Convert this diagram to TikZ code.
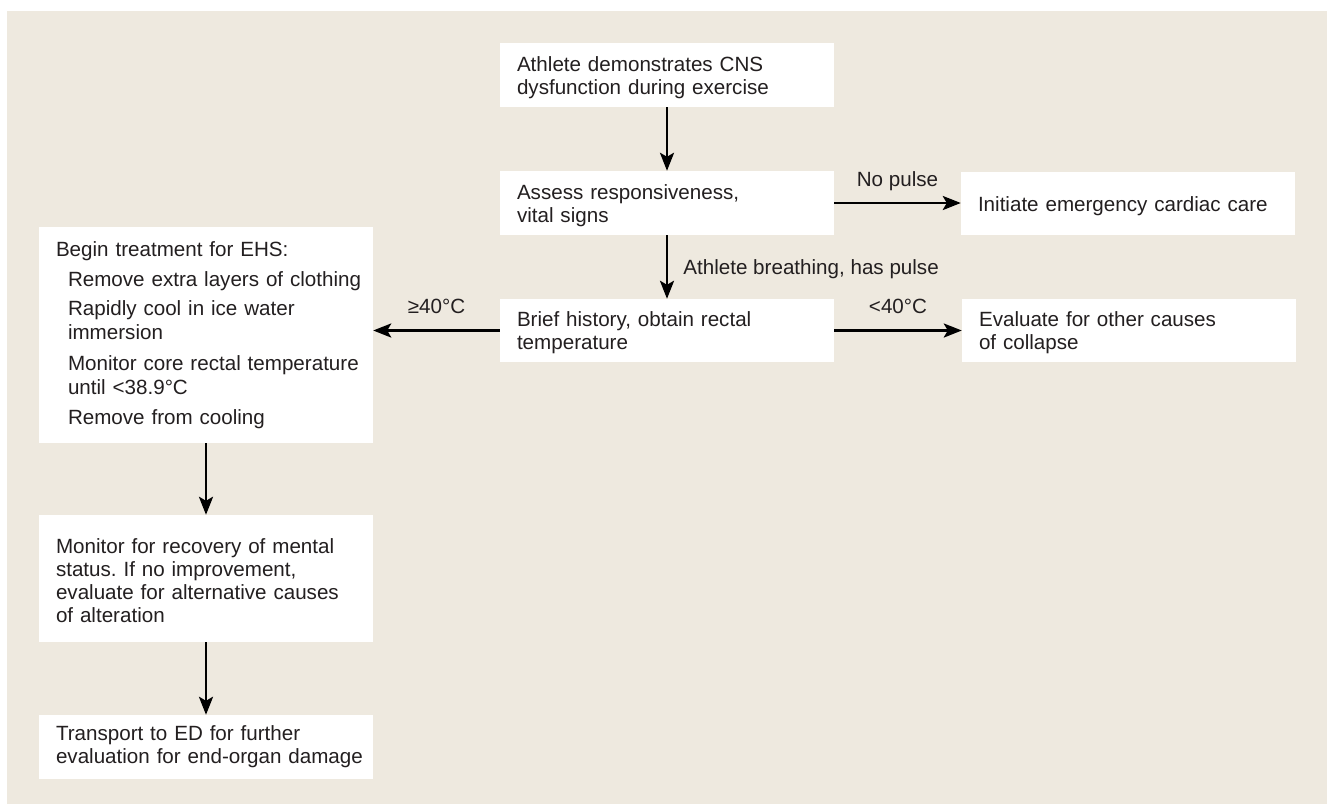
\documentclass[tikz,border=0pt]{standalone}
\usepackage{fontspec}
\setmainfont{Liberation Sans}
\usetikzlibrary{arrows.meta,calc}
\definecolor{bgbeige}{HTML}{EEE9DF}
\definecolor{txt}{HTML}{231F20}
\newcommand{\boxline}[1]{\mbox{#1}}
\newcommand{\boxitem}[1]{\mbox{\hspace*{12pt}#1}}
\newcommand{\topstrut}{\rule{0pt}{20pt}}
\begin{document}
\frenchspacing
\begin{tikzpicture}[x=1pt,y=-1pt,
  box/.style={fill=white, draw=none, text=txt, align=left, inner xsep=17pt, inner ysep=0pt,
    text width=300pt, minimum height=#1, font=\fontsize{20.6}{23}\selectfont\frenchspacing},
  arr/.style={draw=black, line width=2.8pt, -{Stealth[length=18pt,width=14pt,inset=4pt]}},
  lbl/.style={text=txt, inner sep=0pt, font=\fontsize{20.6}{23}\selectfont}]
\useasboundingbox (0,0) rectangle (1330,804);
\fill[bgbeige] (7,11) rectangle (1327,804);

\node[box=64pt] (b1) at (667,75) {\topstrut\boxline{Athlete demonstrates CNS}\\\boxline{dysfunction during exercise}};
\node[box=64pt] (b2) at (667,203) {\topstrut\boxline{Assess responsiveness,}\\\boxline{vital signs}};
\node[box=63pt] (cardiac) at (1128,203) {\rule{0pt}{22pt}\boxline{Initiate emergency cardiac care}};
\node[box=63pt] (b3) at (667,330.5) {\topstrut\boxline{Brief history, obtain rectal}\\\boxline{temperature}};
\node[box=63pt] (eval) at (1129,330.5) {\topstrut\boxline{Evaluate for other causes}\\\boxline{of collapse}};
\node[box=216pt, font=\fontsize{20.6}{24}\selectfont] (ehs) at (206,335) {\boxline{Begin treatment for EHS:}\\[6pt]
\boxitem{Remove extra layers of clothing}\\[5pt]
\boxitem{Rapidly cool in ice water}\\
\boxitem{immersion}\\[7pt]
\boxitem{Monitor core rectal temperature}\\
\boxitem{until <38.9°C}\\[6pt]
\boxitem{Remove from cooling}};
\node[box=127pt] (mon) at (206,578.5) {\topstrut\boxline{Monitor for recovery of mental}\\\boxline{status. If no improvement,}\\\boxline{evaluate for alternative causes}\\\boxline{of alteration}};
\node[box=64pt] (trans) at (206,747) {\boxline{Transport to ED for further}\\\boxline{evaluation for end-organ damage}};

\draw[arr] (b1) -- (b2);
\draw[arr] (b2) -- (b3) node[lbl, midway, anchor=base west, xshift=15pt, yshift=-7pt] {Athlete breathing, has pulse};
\draw[arr] (b2.east) -- (b2.east -| cardiac.west) node[lbl, midway, anchor=base, yshift=17pt] {No pulse};
\draw[arr] (b3.east) -- (eval.west) node[lbl, midway, anchor=base, yshift=17pt] {<40°C};
\draw[arr] (b3.west) -- (ehs.east |- b3.west) node[lbl, midway, anchor=base, yshift=17pt] {≥40°C};
\draw[arr] (ehs) -- (mon);
\draw[arr] (mon) -- (trans);
\end{tikzpicture}
\end{document}
